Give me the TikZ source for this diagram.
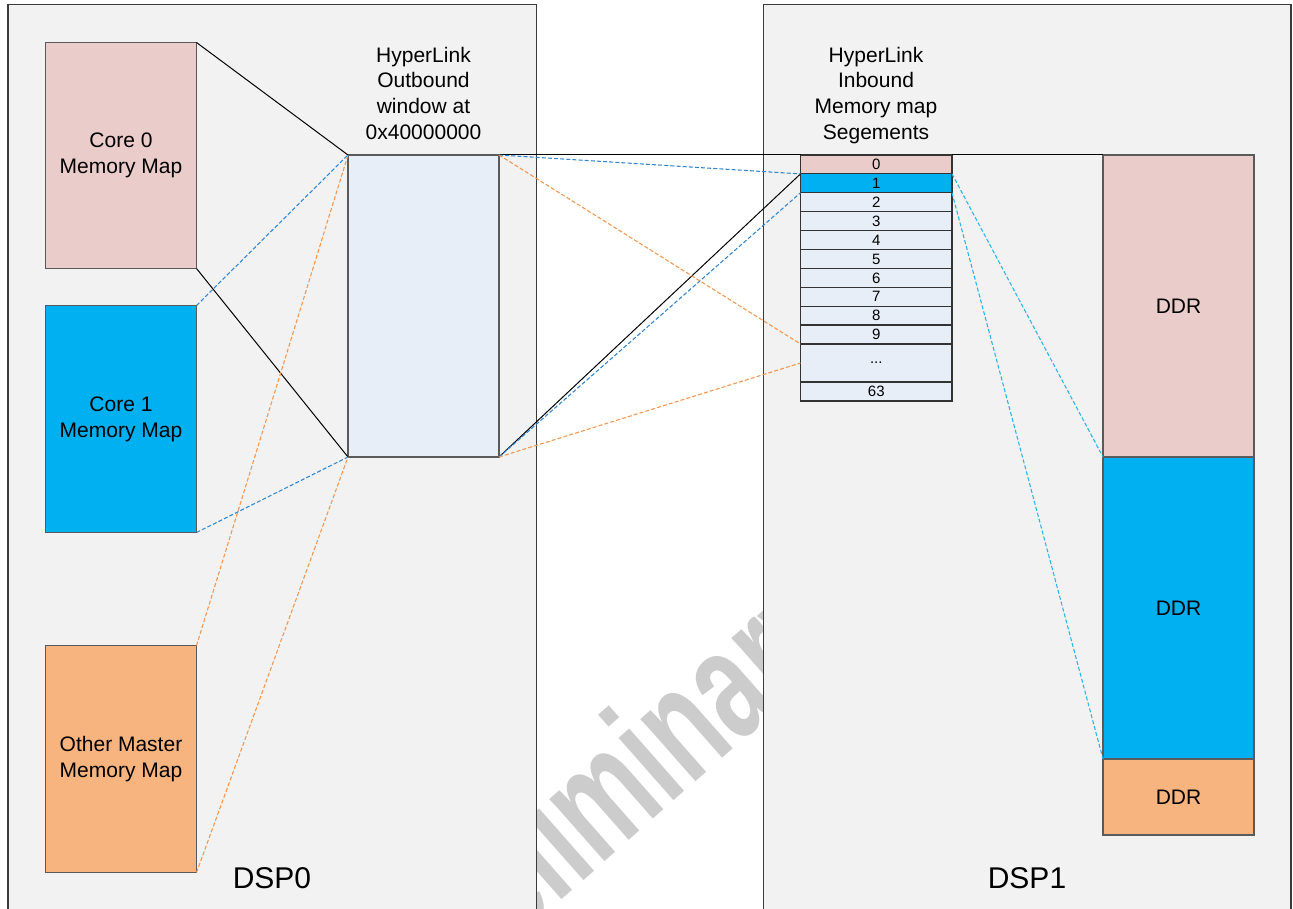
\documentclass[tikz,border=0pt]{standalone}
\usepackage{fontspec}
\setmainfont{Liberation Sans}
\usetikzlibrary{calc}
\definecolor{bgbox}{HTML}{F2F2F2}
\definecolor{pinkfill}{HTML}{EACCCA}
\definecolor{bluefill}{HTML}{00B0F0}
\definecolor{orangefill}{HTML}{F8B47E}
\definecolor{winfill}{HTML}{E7EEF7}
\definecolor{edge}{HTML}{5A5A5A}
\definecolor{frame}{HTML}{3A3A3A}
\definecolor{dblue}{HTML}{2E86D4}
\definecolor{dorange}{HTML}{F5964A}
\definecolor{dcyan}{HTML}{2AB4EA}
\definecolor{wmark}{HTML}{CCCCCC}
\newcommand\mybox[7]{\node[#6, minimum width={(#4-#2)*0.75pt}, minimum height={(#5-#3)*0.75pt}] (#1) at ({(#2+#4)/2},{(#3+#5)/2}) {#7};}
\begin{document}
\begin{tikzpicture}[x=0.75pt,y=-0.75pt,
  dspbox/.style={draw=frame, line width=1pt, fill=bgbox, inner sep=0pt, outer sep=0pt},
  mbox/.style={draw=edge, line width=0.9pt, inner sep=0pt, outer sep=0pt, align=center, font=\fontsize{15.75}{19.3}\selectfont},
  lbl/.style={font=\fontsize{15.75}{19.3}\selectfont, align=center, inner sep=0pt, text depth=0pt},
  seg/.style={draw=black!80, line width=0.9pt, fill=winfill, inner sep=0pt, outer sep=0pt, font=\fontsize{11.25}{13}\selectfont},
  dsplbl/.style={font=\fontsize{22.5}{26}\selectfont, inner sep=0pt, anchor=base},
  wm/.style={text=wmark, font=\fontsize{118}{118}\selectfont\bfseries, inner sep=0pt, anchor=base},
  map/.style={black, line width=0.75pt},
  dmap/.style={line width=0.8pt, dash pattern=on 3pt off 1.6pt},
]
\useasboundingbox (0,0) rectangle (1293,909);
\clip (0,0) rectangle (1293,909);
\fill[white] (0,0) rectangle (1293,909);

% watermark
\node[wm, rotate=41.4] (wmtext) at (643,828) {\scalebox{0.66}[1]{Preliminary}};

% DSP frames
\mybox{dsp0}{8}{4.5}{536.5}{960}{dspbox}{}
\mybox{dsp1}{763.5}{4.5}{1291}{960}{dspbox}{}
\node[dsplbl] (dsp0lbl) at (272,888) {DSP0};
\node[dsplbl] (dsp1lbl) at (1027,888) {DSP1};

% DSP0 memory maps
\mybox{core0}{45.5}{42.5}{196.5}{268.5}{mbox,fill=pinkfill}{Core 0\\Memory Map}
\mybox{core1}{45.5}{305.5}{196.5}{532.5}{mbox,fill=bluefill}{Core 1\\Memory Map}
\mybox{other}{45.5}{645.5}{196.5}{872.5}{mbox,fill=orangefill}{Other Master\\Memory Map}
\mybox{win}{348}{155}{499}{457}{mbox,fill=winfill}{}
\node[lbl, anchor=south] (wintitle) at (423.5,139.5) {HyperLink\\Outbound\\window at\\0x40000000};

% DSP1 segments
\mybox{seg0}{800.5}{155}{952}{173.9}{seg,fill=pinkfill}{0}
\mybox{seg1}{800.5}{173.9}{952}{192.8}{seg,fill=bluefill}{1}
\mybox{seg2}{800.5}{192.8}{952}{211.7}{seg}{2}
\mybox{seg3}{800.5}{211.7}{952}{230.6}{seg}{3}
\mybox{seg4}{800.5}{230.6}{952}{249.5}{seg}{4}
\mybox{seg5}{800.5}{249.5}{952}{268.4}{seg}{5}
\mybox{seg6}{800.5}{268.4}{952}{287.3}{seg}{6}
\mybox{seg7}{800.5}{287.3}{952}{306.2}{seg}{7}
\mybox{seg8}{800.5}{306.2}{952}{325.1}{seg}{8}
\mybox{seg9}{800.5}{325.1}{952}{344}{seg}{9}
\mybox{segd}{800.5}{344}{952}{382}{seg}{...}
\mybox{seg63}{800.5}{382}{952}{401}{seg}{63}
\node[lbl, anchor=south] (segtitle) at (876,139.5) {HyperLink\\Inbound\\Memory map\\Segements};

% DDR
\mybox{ddr0}{1103}{155}{1254}{457}{mbox,fill=pinkfill}{DDR}
\mybox{ddr1}{1103}{457}{1254}{759}{mbox,fill=bluefill}{DDR}
\mybox{ddr2}{1103}{759}{1254}{835}{mbox,fill=orangefill}{DDR}

% connectors DSP0
\draw[map] (core0.north east) -- (win.north west);
\draw[map] (core0.south east) -- (win.south west);
\draw[dmap,dblue] (core1.north east) -- (win.north west);
\draw[dmap,dblue] (core1.south east) -- (win.south west);
\draw[dmap,dorange] (other.north east) -- (win.north west);
\draw[dmap,dorange] (other.south east) -- (win.south west);

% connectors window -> segments
\draw[map] (win.north east) -- (seg0.north west);
\draw[map] (win.south east) -- (seg0.south west);
\draw[dmap,dblue] (win.north east) -- (seg1.north west);
\draw[dmap,dblue] (win.south east) -- (seg1.south west);
\draw[dmap,dorange] (win.north east) -- (segd.north west);
\draw[dmap,dorange] (win.south east) -- (segd.west);

% connectors segments -> DDR
\draw[map] (seg0.north east) -- (ddr0.north west);
\draw[dmap,dcyan] (seg1.north east) -- (ddr1.north west);
\draw[dmap,dcyan] (seg1.south east) -- (ddr1.south west);
\end{tikzpicture}
\end{document}
